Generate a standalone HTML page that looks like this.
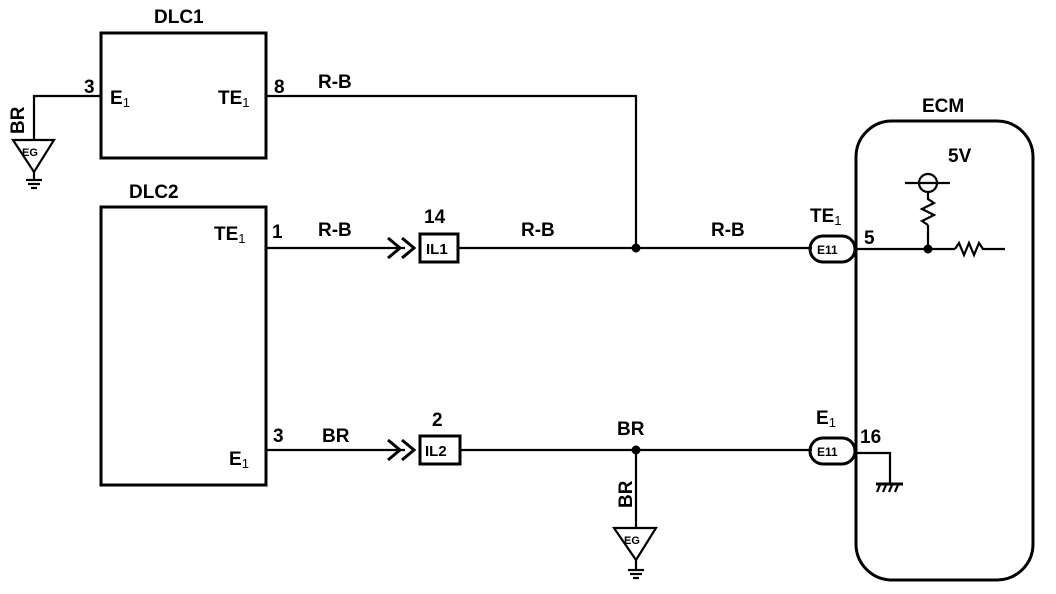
<!DOCTYPE html>
<html><head><meta charset="utf-8"><style>
html,body{margin:0;padding:0;background:#fff;}
svg{display:block;}
text{font-family:"Liberation Sans",sans-serif;font-weight:bold;fill:#000;}
</style></head><body>
<svg width="1056" height="594" viewBox="0 0 1056 594" xmlns="http://www.w3.org/2000/svg">
<g stroke="#000" fill="none" stroke-width="2.2">
<!-- DLC1 -->
<rect x="101" y="33" width="165" height="125" stroke-width="3"/>
<polyline points="101,96 34,96 34,140"/>
<polygon points="13,140 54,140 34,172"/>
<line x1="34" y1="172" x2="34" y2="180"/>
<line x1="26" y1="180" x2="42" y2="180"/><line x1="28" y1="184" x2="40" y2="184"/><line x1="31" y1="188" x2="37" y2="188"/>
<polyline points="266,96 636,96 636,248"/>
<!-- DLC2 -->
<rect x="101" y="207" width="165" height="278" stroke-width="3"/>
<line x1="266" y1="248" x2="405" y2="248"/>
<polyline points="388,238 400,248 388,258" stroke-width="3"/>
<polyline points="402,238 414,248 402,258" stroke-width="3"/>
<rect x="420" y="234" width="38" height="28" stroke-width="3"/>
<line x1="458" y1="248" x2="812" y2="248"/>
<line x1="266" y1="450" x2="405" y2="450"/>
<polyline points="388,440 400,450 388,460" stroke-width="3"/>
<polyline points="402,440 414,450 402,460" stroke-width="3"/>
<rect x="420" y="436" width="40" height="28" stroke-width="3"/>
<line x1="460" y1="450" x2="812" y2="450"/>
<line x1="636" y1="450" x2="636" y2="528"/>
<polygon points="614,528 656,528 636,560"/>
<line x1="636" y1="560" x2="636" y2="570"/>
<line x1="628" y1="570" x2="644" y2="570"/><line x1="630" y1="574" x2="642" y2="574"/><line x1="633" y1="578" x2="639" y2="578"/>
<!-- ECM -->
<rect x="856" y="121" width="177" height="459" rx="36" ry="36" stroke-width="3"/>
<rect x="810" y="236" width="45" height="26" rx="13" ry="13" stroke-width="3"/>
<rect x="810" y="438" width="45" height="26" rx="13" ry="13" stroke-width="3"/>
<line x1="856" y1="249" x2="955" y2="249"/>
<polyline points="955,249 959,243 964,255 969,243 974,255 979,243 983,249 1005,249"/>
<line x1="928" y1="249" x2="928" y2="225"/>
<polyline points="928,225 922,221 934,215 922,209 934,203 928,199 928,193"/>
<circle cx="928" cy="183" r="9"/>
<line x1="905" y1="183" x2="950" y2="183"/>
<polyline points="856,453 890,453 890,483"/>
<line x1="876" y1="484" x2="903" y2="484" stroke-width="3"/>
<line x1="880" y1="485" x2="877" y2="492"/><line x1="886" y1="485" x2="883" y2="492"/><line x1="892" y1="485" x2="889" y2="492"/><line x1="898" y1="485" x2="895" y2="492"/>
</g>
<circle cx="636" cy="248" r="4.5"/>
<circle cx="636" cy="450" r="4.5"/>
<circle cx="928" cy="249" r="4.5"/>
<g font-size="19">
<text x="154" y="23">DLC1</text>
<text x="129" y="198">DLC2</text>
<text x="922" y="112">ECM</text>
<text x="948" y="162">5V</text>
<text x="84" y="93">3</text>
<text x="110" y="104">E<tspan font-size="13" font-weight="normal" dy="3">1</tspan></text>
<text x="218" y="104">TE<tspan font-size="13" font-weight="normal" dy="3">1</tspan></text>
<text x="274" y="93">8</text>
<text x="318" y="88">R-B</text>
<text x="214" y="240">TE<tspan font-size="13" font-weight="normal" dy="3">1</tspan></text>
<text x="272" y="238">1</text>
<text x="318" y="236">R-B</text>
<text x="424" y="223">14</text>
<text x="521" y="236">R-B</text>
<text x="711" y="236">R-B</text>
<text x="810" y="222">TE<tspan font-size="13" font-weight="normal" dy="3">1</tspan></text>
<text x="864" y="244">5</text>
<text x="229" y="465">E<tspan font-size="13" font-weight="normal" dy="3">1</tspan></text>
<text x="273" y="442">3</text>
<text x="322" y="442">BR</text>
<text x="432" y="426">2</text>
<text x="617" y="435">BR</text>
<text x="816" y="424">E<tspan font-size="13" font-weight="normal" dy="3">1</tspan></text>
<text x="860" y="443">16</text>
<text transform="translate(24,134) rotate(-90)">BR</text>
<text transform="translate(632,508) rotate(-90)">BR</text>
</g>
<g font-size="15">
<text x="426" y="254">IL1</text>
<text x="425" y="456">IL2</text>
<text x="817" y="254" font-size="12">E11</text>
<text x="817" y="456" font-size="12">E11</text>
<text x="22" y="156" font-size="11">EG</text>
<text x="624" y="544" font-size="11">EG</text>
</g>
</svg>
</body></html>
